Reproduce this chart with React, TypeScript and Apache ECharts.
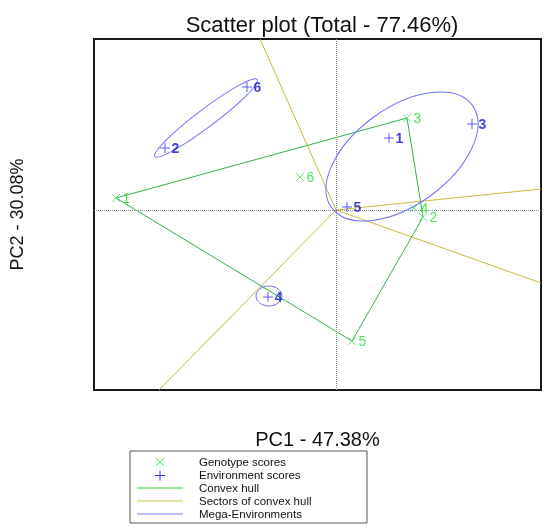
import React, { useEffect, useRef } from "react";
import * as echarts from "echarts";

const genotypeNames = ["1", "2", "3", "4", "5", "6"];
const genotypePC1 = [-2.2, 0.87, 0.71, 0.78, 0.16, -0.36];
const genotypePC2 = [0.12, -0.07, 0.92, 0.02, -1.31, 0.33];
const environmentNames = ["1", "2", "3", "4", "5", "6"];
const environmentPC1 = [0.53, -1.71, 1.36, -0.68, 0.11, -0.89];
const environmentPC2 = [0.72, 0.62, 0.86, -0.87, 0.03, 1.23];
const hullOrder = [0, 2, 1, 4, 0];
const sectorRayEnds = [
  [-0.76, 1.71],
  [2.05, 0.21],
  [2.05, -0.73],
  [-1.77, -1.8],
];
const megaEnvCenters = [
  [-1.3, 0.92],
  [0.66, 0.535],
  [-0.67, -0.86],
];
const megaEnvRadii = [
  [0.64, 0.09],
  [0.87, 0.485],
  [0.13, 0.1],
];
const megaEnvAngles = [37, 36, 0];
const legendLabels = ["Genotype scores", "Environment scores", "Convex hull", "Sectors of convex hull", "Mega-Environments"];
const xRange = [-2.42, 2.05];
const yRange = [-1.8, 1.71];

const FONT = "'Liberation Sans', Arial, sans-serif";
const GEN_MARK = "#44ee66";
const GEN_LABEL = "#22dd33";
const ENV_MARK = "#3333ff";
const ENV_LABEL = "#1414c8";
const HULL = "#36b04a";
const SECTOR = "#c9b93c";
const MEGA = "#7070ff";

const crossPath = "path://M0,0L10,10M10,0L0,10";
const plusPath = "path://M5,0L5,10M0,5L10,5";

const ROW0 = 462;
const ROWH = 13;

export default function App() {
  const ref = useRef<HTMLDivElement>(null);
  useEffect(() => {
    if (!ref.current) return;
    const chart = echarts.init(ref.current, null, { renderer: "svg" });
    const genData = genotypeNames.map((n, i) => ({ name: n, value: [genotypePC1[i], genotypePC2[i]] }));
    const envData = environmentNames.map((n, i) => ({ name: n, value: [environmentPC1[i], environmentPC2[i]] }));
    const hullData = hullOrder.map((i) => [genotypePC1[i], genotypePC2[i]]);
    const sectorSeries = sectorRayEnds.map((e) => ({
      type: "line",
      name: "Sectors of convex hull",
      data: [[0, 0], e],
      symbol: "none",
      lineStyle: { color: SECTOR, width: 1 },
      z: 2,
    }));
    const ellipseData = megaEnvCenters.map((c, i) => [c[0], c[1], megaEnvRadii[i][0], megaEnvRadii[i][1], megaEnvAngles[i]]);
    const rowY = (i: number) => ROW0 + i * ROWH;

    chart.setOption({
      animation: false,
      title: {
        text: "Scatter plot (Total - 77.46%)",
        left: 317,
        top: 8,
        textAlign: "center",
        textStyle: { fontFamily: FONT, fontSize: 22, fontWeight: "normal", color: "#111" },
      },
      grid: {
        left: 94,
        right: 9,
        top: 39,
        bottom: 138,
        show: true,
        borderColor: "#1a1a1a",
        borderWidth: 2,
        backgroundColor: "#fff",
      },
      xAxis: {
        type: "value",
        min: xRange[0],
        max: xRange[1],
        name: "PC1 - 47.38%",
        nameLocation: "middle",
        nameGap: 39,
        nameTextStyle: { fontFamily: FONT, fontSize: 20, color: "#111" },
        axisLine: { show: false },
        axisTick: { show: false },
        axisLabel: { show: false },
        splitLine: { show: false },
      },
      yAxis: {
        type: "value",
        min: yRange[0],
        max: yRange[1],
        name: "PC2 - 30.08%",
        nameLocation: "middle",
        nameGap: 68,
        nameTextStyle: { fontFamily: FONT, fontSize: 18, color: "#111" },
        axisLine: { show: false },
        axisTick: { show: false },
        axisLabel: { show: false },
        splitLine: { show: false },
      },
      series: [
        {
          type: "line",
          name: "Convex hull",
          data: hullData,
          symbol: "none",
          lineStyle: { color: HULL, width: 1 },
          z: 3,
          markLine: {
            silent: true,
            symbol: "none",
            label: { show: false },
            lineStyle: { color: "#8a8a8a", type: "dotted", width: 1 },
            data: [{ xAxis: 0 }, { yAxis: 0 }],
          },
        },
        ...sectorSeries,
        {
          type: "custom",
          name: "Mega-Environments",
          data: ellipseData,
          encode: { x: 0, y: 1 },
          clip: true,
          z: 4,
          renderItem: (params: any, api: any) => {
            const c = api.coord([api.value(0), api.value(1)]);
            const s = api.size([api.value(2), api.value(3)]);
            return {
              type: "ellipse",
              x: c[0],
              y: c[1],
              rotation: (api.value(4) * Math.PI) / 180,
              shape: { cx: 0, cy: 0, rx: s[0], ry: s[1] },
              style: { fill: "none", stroke: MEGA, lineWidth: 1 },
            };
          },
        },
        {
          type: "scatter",
          name: "Genotype scores",
          data: genData,
          symbol: crossPath,
          symbolSize: 8,
          itemStyle: { color: "transparent", borderColor: GEN_MARK, borderWidth: 1 },
          label: {
            show: true,
            position: "right",
            distance: 2,
            formatter: "{b}",
            color: GEN_LABEL,
            fontFamily: FONT,
            fontSize: 14,
          },
          z: 5,
        },
        {
          type: "scatter",
          name: "Environment scores",
          data: envData,
          symbol: plusPath,
          symbolSize: 10,
          itemStyle: { color: "transparent", borderColor: ENV_MARK, borderWidth: 1 },
          label: {
            show: true,
            position: "right",
            distance: 1,
            formatter: "{b}",
            color: ENV_LABEL,
            fontFamily: FONT,
            fontWeight: "bold",
            fontSize: 14,
          },
          z: 6,
        },
      ],
      graphic: [
        {
          type: "rect",
          shape: { x: 130, y: 451, width: 237, height: 72 },
          style: { fill: "#fff", stroke: "#555", lineWidth: 1 },
        },
        { type: "line", shape: { x1: 156, y1: rowY(0) - 4, x2: 164, y2: rowY(0) + 4 }, style: { stroke: GEN_MARK, lineWidth: 1 } },
        { type: "line", shape: { x1: 164, y1: rowY(0) - 4, x2: 156, y2: rowY(0) + 4 }, style: { stroke: GEN_MARK, lineWidth: 1 } },
        { type: "line", shape: { x1: 155, y1: rowY(1) + 0.5, x2: 165, y2: rowY(1) + 0.5 }, style: { stroke: ENV_MARK, lineWidth: 1 } },
        { type: "line", shape: { x1: 160, y1: rowY(1) - 4.5, x2: 160, y2: rowY(1) + 5.5 }, style: { stroke: ENV_MARK, lineWidth: 1 } },
        { type: "line", shape: { x1: 137, y1: rowY(2), x2: 183, y2: rowY(2) }, style: { stroke: "#44cc44", lineWidth: 1 } },
        { type: "line", shape: { x1: 137, y1: rowY(3), x2: 183, y2: rowY(3) }, style: { stroke: "#cccc44", lineWidth: 1 } },
        { type: "line", shape: { x1: 137, y1: rowY(4), x2: 183, y2: rowY(4) }, style: { stroke: "#7777ff", lineWidth: 1 } },
        ...legendLabels.map((t, i) => ({
          type: "text",
          x: 199,
          y: rowY(i),
          style: {
            text: t,
            fill: "#111",
            fontFamily: FONT,
            fontSize: 11.5,
            lineHeight: 11,
            verticalAlign: "middle",
            align: "left",
          },
        })),
      ],
    });
    return () => chart.dispose();
  }, []);
  return <div ref={ref} style={{ position: "fixed", left: 0, top: 0, width: 550, height: 528 }} />;
}
